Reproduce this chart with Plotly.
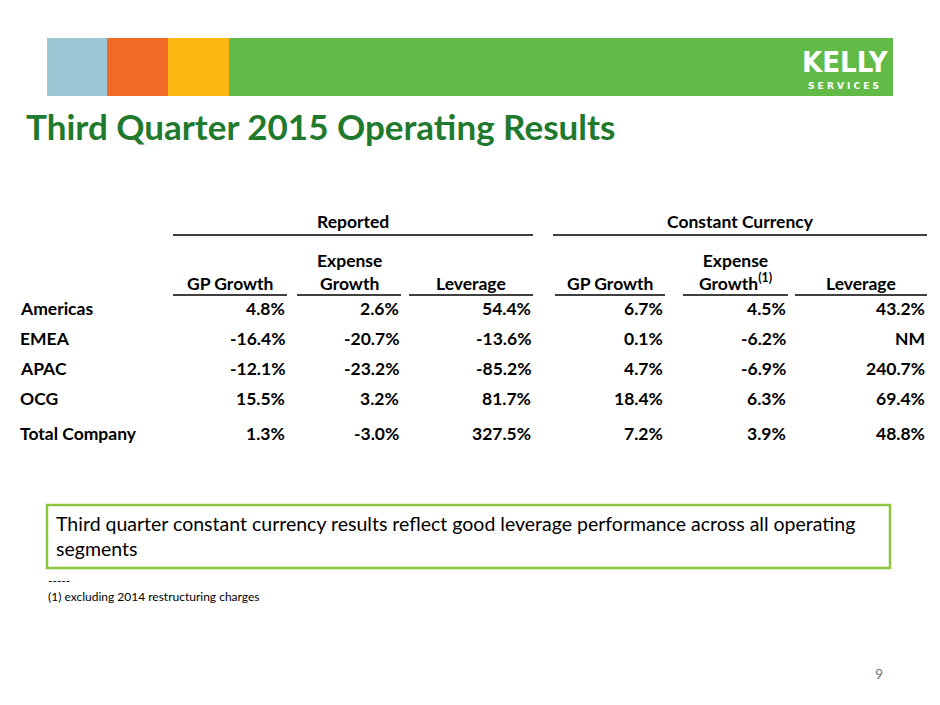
import plotly.graph_objects as go

regions = ["Americas", "EMEA", "APAC", "OCG", "Total Company"]
rep_gp = ["4.8%", "-16.4%", "-12.1%", "15.5%", "1.3%"]
rep_exp = ["2.6%", "-20.7%", "-23.2%", "3.2%", "-3.0%"]
rep_lev = ["54.4%", "-13.6%", "-85.2%", "81.7%", "327.5%"]
cc_gp = ["6.7%", "0.1%", "4.7%", "18.4%", "7.2%"]
cc_exp = ["4.5%", "-6.2%", "-6.9%", "6.3%", "3.9%"]
cc_lev = ["43.2%", "NM", "240.7%", "69.4%", "48.8%"]
col_heads = ["GP Growth", "Expense<br>Growth", "Leverage", "GP Growth", "Expense<br>Growth<sup>(1)</sup>", "Leverage"]
groups = ["Reported", "Constant Currency"]

F = "Lato"
fig = go.Figure()
fig.add_trace(go.Scatter(x=[100], y=[100], mode="markers", marker=dict(opacity=0), showlegend=False, hoverinfo="skip"))
shapes, ann = [], []
def rect(x0, x1, y0, y1, c):
    shapes.append(dict(type="rect", x0=x0, x1=x1, y0=y0, y1=y1, fillcolor=c, line=dict(width=0), layer="below"))
rect(47, 107, 38, 96, "#9cc8d6"); rect(107, 168, 38, 96, "#f26b26")
rect(168, 229, 38, 96, "#fdb913"); rect(229, 893, 38, 96, "#62bb46")
ann.append(dict(x=845, y=62, text="<b>KELLY</b>", font=dict(family="DejaVu Sans Condensed, DejaVu Sans", size=29, color="white"), showarrow=False))
ann.append(dict(x=843, y=86, text="<b>S E R V I C E S</b>", font=dict(family="DejaVu Sans", size=9, color="white"), showarrow=False))
ann.append(dict(x=24, y=126, text="<b>Third Quarter 2015 Operating Results</b>", xanchor="left", font=dict(family=F, size=35, color="#1f7a2e"), showarrow=False))

def t(x, y, s, anchor="right", size=17.5, bold=True, color="black"):
    ann.append(dict(x=x, y=y, text=f"<b>{s}</b>" if bold else s, xanchor=anchor, yanchor="middle",
                    font=dict(family=F, size=size, color=color), showarrow=False))
def line(x0, x1, y, w=1.5):
    shapes.append(dict(type="line", x0=x0, x1=x1, y0=y, y1=y, line=dict(color="black", width=w)))

t(353, 221, groups[0], "center"); t(740, 221, groups[1], "center")
line(173, 533, 235); line(553, 927, 235)
lefts = [173, 297, 409, 555, 683, 795]
rights = [287, 401, 533, 665, 788, 927]
for i, h in enumerate(col_heads):
    ann.append(dict(x=(lefts[i]+rights[i])/2, y=296, text="<b>"+h.replace("<br>", "</b><br><b>")+"</b>", xanchor="center", yanchor="bottom",
                    font=dict(family=F, size=17.5, color="black"), showarrow=False))
    line(lefts[i], rights[i], 295)
rows_y = [308, 338, 368, 398, 433]
cols = [rep_gp, rep_exp, rep_lev, cc_gp, cc_exp, cc_lev]
for r, reg in enumerate(regions):
    t(18, rows_y[r], reg, "left")
    for c, col in enumerate(cols):
        t(rights[c], rows_y[r], col[r])

shapes.append(dict(type="rect", x0=47, x1=890, y0=505, y1=568, line=dict(color="#8cc63f", width=2.5)))
ann.append(dict(x=54, y=536, text="Third quarter constant currency results reflect good leverage performance across all operating<br>segments",
                xanchor="left", yanchor="middle", align="left", font=dict(family=F, size=19.5, color="black"), showarrow=False))
ann.append(dict(x=46, y=571, text="-----<br>(1) excluding 2014 restructuring charges", xanchor="left", yanchor="top", align="left",
                font=dict(family=F, size=12, color="black"), showarrow=False))
t(879, 673, "9", "center", 14, False, "#777777")

fig.update_layout(width=940, height=705, margin=dict(l=0, r=0, t=0, b=0), plot_bgcolor="white", paper_bgcolor="white",
                  xaxis=dict(range=[8, 948], visible=False), yaxis=dict(range=[713, 8], visible=False),
                  shapes=shapes, annotations=ann)
fig.write_html("out.html")
